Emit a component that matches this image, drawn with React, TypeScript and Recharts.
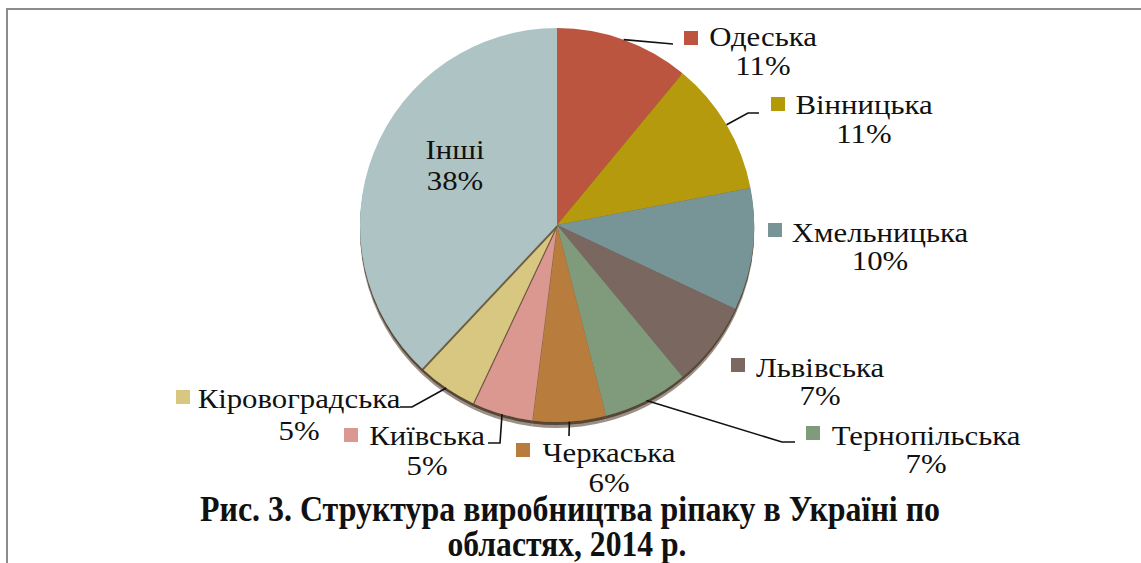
import React from 'react'
import { PieChart, Pie, Cell } from 'recharts'

const regions = [
  'Одеська',
  'Вінницька',
  'Хмельницька',
  'Львівська',
  'Тернопільська',
  'Черкаська',
  'Київська',
  'Кіровоградська',
  'Інші',
]
const shares = [11, 11, 10, 7, 7, 6, 5, 5, 38]
const colors = ['#BC5440', '#B59A08', '#779596', '#7A6861', '#7F9B7C', '#B87D3E', '#DA9890', '#D8C781', '#AEC4C4']

const titleLines = ['Рис. 3. Структура виробництва ріпаку в Україні по', 'областях, 2014 р.']

const data = regions.map((name, i) => ({ name, value: shares[i] }))

// where each label sits on the page: name centre/baseline, percent baseline, legend square, leader path
const labelLayout = [
  { nx: 763, ny: 46, py: 75, sq: [684, 31], leader: [[673, 44]] },
  { nx: 864, ny: 114, py: 143, sq: [771, 97], leader: [[748, 113], [759, 113]] },
  { nx: 880, ny: 242, py: 270, sq: [768, 223], leader: null },
  { nx: 820, ny: 377, py: 405, sq: [731, 358], leader: null },
  { nx: 926, ny: 445, py: 473, sq: [806, 426], leader: [[782, 442], [795, 442]] },
  { nx: 609, ny: 462, py: 492, sq: [516, 443], leader: [[569, 436]] },
  { nx: 427, ny: 445, py: 475, sq: [344, 428], leader: [[500, 443], [488, 443]] },
  { nx: 299, ny: 408, py: 440, sq: [176, 390], leader: [[412, 407], [400, 407]] },
  { nx: 455, ny: 159, py: 190, sq: null, leader: null },
]

const RAD = Math.PI / 180
const stretch = 1.14

function renderLabel(props: any) {
  const { cx, cy, midAngle, outerRadius, index, name, value } = props
  const l = labelLayout[index]
  const sx = cx + outerRadius * Math.cos(-midAngle * RAD)
  const sy = cy + outerRadius * Math.sin(-midAngle * RAD)
  const pts = l.leader ? [[sx, sy], ...l.leader].map((p) => p.join(',')).join(' ') : null
  return (
    <g key={`lbl-${index}`} className="pie-label">
      {pts && <polyline points={pts} fill="none" stroke="#111" strokeWidth={1.6} />}
      {l.sq && <rect x={l.sq[0]} y={l.sq[1]} width={14} height={14} fill={colors[index]} />}
      <text transform={`translate(${l.nx},${l.ny}) scale(${stretch},1)`} textAnchor="middle">
        {name}
      </text>
      <text transform={`translate(${l.nx},${l.py}) scale(${stretch},1)`} textAnchor="middle">
        {value}%
      </text>
    </g>
  )
}

export default function App() {
  return (
    <div style={{ position: 'absolute', left: 0, top: 0, width: 1141, height: 563, background: '#fff', overflow: 'hidden' }}>
      <style>{`
        .pie-shade { filter: url(#pieShadow); }
        .pie-label text { font-family: 'Liberation Serif', serif; font-size: 27px; fill: #111; stroke: none; }
      `}</style>
      <svg width={0} height={0} style={{ position: 'absolute' }}>
        <defs>
          <filter id="pieShadow" x="-10%" y="-10%" width="120%" height="120%">
            <feDropShadow dx={0} dy={3} stdDeviation={0.7} floodColor="#4e3a2c" floodOpacity={0.75} />
          </filter>
        </defs>
      </svg>
      {/* frame */}
      <div style={{ position: 'absolute', left: 6, top: 8, right: 0, height: 2, background: '#8c8c8c' }} />
      <div style={{ position: 'absolute', left: 6, top: 8, width: 2, bottom: 0, background: '#8c8c8c' }} />
      <div style={{ position: 'absolute', left: 0, top: 0 }}>
        <PieChart width={1141} height={563} margin={{ top: 0, right: 0, bottom: 0, left: 0 }}>
          <Pie
            data={data}
            dataKey="value"
            nameKey="name"
            cx={557}
            cy={225}
            outerRadius={197}
            startAngle={90}
            endAngle={-270}
            stroke="none"
            className="pie-shade"
            isAnimationActive={false}
          >
            {data.map((d, i) => (
              <Cell key={d.name} fill={colors[i]} />
            ))}
          </Pie>
          <Pie
            data={data}
            dataKey="value"
            nameKey="name"
            cx={557}
            cy={225}
            outerRadius={197}
            startAngle={90}
            endAngle={-270}
            fill="transparent"
            stroke="none"
            label={renderLabel}
            labelLine={false}
            isAnimationActive={false}
          />
          <text
            x={570}
            y={521}
            textAnchor="middle"
            fontFamily="Liberation Serif"
            fontWeight="bold"
            fontSize={36}
            textLength={740}
            lengthAdjust="spacingAndGlyphs"
            fill="#111"
          >
            {titleLines[0]}
          </text>
          <text
            x={567}
            y={556}
            textAnchor="middle"
            fontFamily="Liberation Serif"
            fontWeight="bold"
            fontSize={36}
            textLength={239}
            lengthAdjust="spacingAndGlyphs"
            fill="#111"
          >
            {titleLines[1]}
          </text>
        </PieChart>
      </div>
    </div>
  )
}
